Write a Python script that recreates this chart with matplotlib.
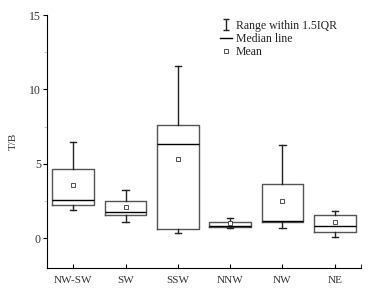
import numpy as np
import matplotlib.pyplot as plt
from matplotlib.lines import Line2D

plt.rcParams['font.family'] = ['Liberation Serif', 'DejaVu Serif']

# box statistics
labels = ['NW-SW', 'SW', 'SSW', 'NNW', 'NW', 'NE']
whislo = [1.9, 1.07, 0.32, 0.69, 0.69, 0.11]
q1 = [2.2, 1.56, 0.62, 0.74, 1.08, 0.42]
med = [2.6, 1.77, 6.3, 0.80, 1.18, 0.85]
q3 = [4.63, 2.5, 7.58, 1.1, 3.67, 1.54]
whishi = [6.44, 3.22, 11.6, 1.36, 6.29, 1.81]
means = [3.58, 2.1, 5.3, 1.05, 2.5, 1.12]

stats = []
for i in range(len(labels)):
    stats.append(dict(label=labels[i], whislo=whislo[i], q1=q1[i], med=med[i],
                      q3=q3[i], whishi=whishi[i], mean=means[i], fliers=[]))

fig = plt.figure(figsize=(3.86, 2.97), dpi=100)
ax = fig.add_axes([0.122, 0.098, 0.813, 0.851])

pos = np.arange(len(labels)) + 0.5
ax.bxp(stats, positions=pos, widths=0.8, showmeans=True, showfliers=False,
       boxprops=dict(color='#555555', linewidth=1.0),
       whiskerprops=dict(color='#222222', linewidth=1.0),
       capprops=dict(color='#222222', linewidth=1.0),
       medianprops=dict(color='black', linewidth=1.0),
       meanprops=dict(marker='s', markersize=2.5, markerfacecolor='white',
                      markeredgecolor='#333333', markeredgewidth=0.6),
       capwidths=0.12)

ax.set_xlim(0, 6)
ax.set_ylim(-2, 15)
ax.set_xticks(pos)
ax.set_xticklabels(labels)
ax.set_xticks([6], minor=True)
ax.set_yticks([0, 5, 10, 15])
ax.set_yticks([2.5, 7.5, 12.5], minor=True)
ax.tick_params(axis='x', which='both', direction='in', length=3, labelsize=8,
               labelcolor='#333333', pad=6)
ax.tick_params(axis='y', which='major', direction='out', length=3, labelsize=8.5,
               labelcolor='#333333', pad=1.5)
ax.tick_params(axis='y', which='minor', direction='out', length=2, color='#bbbbbb')
ax.spines['top'].set_visible(False)
ax.spines['right'].set_visible(False)
ax.set_ylabel('T/B', fontsize=8, color='#333333')
ax.yaxis.set_label_coords(-0.094, 0.5)

eb = ax.errorbar([np.nan], [np.nan], yerr=[1], fmt='none', ecolor='#222222',
                 capsize=2.5, elinewidth=1.0, capthick=1.0)
handles = [eb,
           Line2D([], [], color='black', linewidth=1.0),
           Line2D([], [], linestyle='none', marker='s', markersize=2.5,
                  markerfacecolor='white', markeredgecolor='#333333', markeredgewidth=0.6)]
leg = ax.legend(handles, ['Range within 1.5IQR', 'Median line', 'Mean'],
                loc='upper right', bbox_to_anchor=(0.945, 1.01), frameon=False,
                fontsize=8.5, handlelength=1.0, handletextpad=0.3, labelspacing=0.1,
                borderaxespad=0.2)
for t in leg.get_texts():
    t.set_color('#222222')

fig.savefig('out.png', dpi=100)
